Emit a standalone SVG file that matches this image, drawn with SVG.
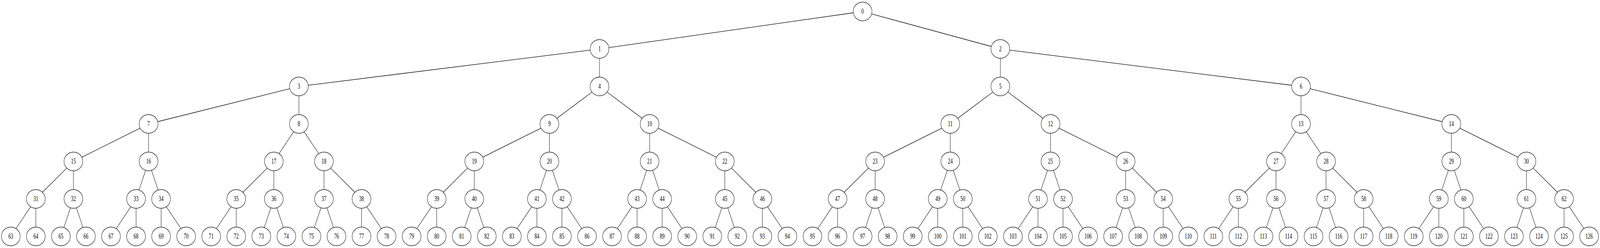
<svg xmlns="http://www.w3.org/2000/svg" width="6131" height="635" viewBox="0 0 6131 635" preserveAspectRatio="none">
<style>
:root{width:100vw;height:100vh}
.e line{stroke:#000;stroke-width:1.33;fill:none}
.n ellipse{fill:#fff;stroke:#000;stroke-width:1.33}
.n text{font-family:"Liberation Serif","Times New Roman",serif;font-size:18.67px;text-anchor:middle;fill:#000}
</style>
<rect x="0" y="0" width="6131" height="635" fill="#fff"/>
<g transform="translate(41.33 29.33)">
<g id="edges" class="e">
<line x1="3228.36" y1="3.39" x2="2291.64" y2="92.61"/>
<line x1="3298.73" y1="6.32" x2="3757.27" y2="89.68"/>
<line x1="2220.28" y1="98.98" x2="1139.72" y2="189.02"/>
<line x1="2256" y1="120" x2="2256" y2="168"/>
<line x1="3792" y1="120" x2="3792" y2="168"/>
<line x1="3827.72" y1="98.98" x2="4908.28" y2="189.02"/>
<line x1="1069.07" y1="197.82" x2="562.93" y2="282.18"/>
<line x1="1104" y1="216" x2="1104" y2="264"/>
<line x1="2227.2" y1="206.4" x2="2092.8" y2="273.6"/>
<line x1="2284.8" y1="206.4" x2="2419.2" y2="273.6"/>
<line x1="3763.2" y1="206.4" x2="3628.8" y2="273.6"/>
<line x1="3820.8" y1="206.4" x2="3955.2" y2="273.6"/>
<line x1="4944" y1="216" x2="4944" y2="264"/>
<line x1="4978.93" y1="197.82" x2="5485.07" y2="282.18"/>
<line x1="495.8" y1="298.73" x2="272.2" y2="373.27"/>
<line x1="528" y1="312" x2="528" y2="360"/>
<line x1="1084.03" y1="307.97" x2="1027.97" y2="364.03"/>
<line x1="1123.97" y1="307.97" x2="1180.03" y2="364.03"/>
<line x1="2031.8" y1="298.73" x2="1808.2" y2="373.27"/>
<line x1="2064" y1="312" x2="2064" y2="360"/>
<line x1="2448" y1="312" x2="2448" y2="360"/>
<line x1="2480.2" y1="298.73" x2="2703.8" y2="373.27"/>
<line x1="3567.8" y1="298.73" x2="3344.2" y2="373.27"/>
<line x1="3600" y1="312" x2="3600" y2="360"/>
<line x1="3984" y1="312" x2="3984" y2="360"/>
<line x1="4016.2" y1="298.73" x2="4239.8" y2="373.27"/>
<line x1="4924.03" y1="307.97" x2="4867.97" y2="364.03"/>
<line x1="4963.97" y1="307.97" x2="5020.03" y2="364.03"/>
<line x1="5520" y1="312" x2="5520" y2="360"/>
<line x1="5552.2" y1="298.73" x2="5775.8" y2="373.27"/>
<line x1="214.54" y1="400.97" x2="121.46" y2="463.03"/>
<line x1="240" y1="408" x2="240" y2="456"/>
<line x1="516.62" y1="406.77" x2="491.38" y2="457.23"/>
<line x1="539.38" y1="406.77" x2="564.62" y2="457.23"/>
<line x1="982.54" y1="400.97" x2="889.46" y2="463.03"/>
<line x1="1008" y1="408" x2="1008" y2="456"/>
<line x1="1200" y1="408" x2="1200" y2="456"/>
<line x1="1225.46" y1="400.97" x2="1318.54" y2="463.03"/>
<line x1="1750.54" y1="400.97" x2="1657.46" y2="463.03"/>
<line x1="1776" y1="408" x2="1776" y2="456"/>
<line x1="2052.62" y1="406.77" x2="2027.38" y2="457.23"/>
<line x1="2075.38" y1="406.77" x2="2100.62" y2="457.23"/>
<line x1="2436.62" y1="406.77" x2="2411.38" y2="457.23"/>
<line x1="2459.38" y1="406.77" x2="2484.62" y2="457.23"/>
<line x1="2736" y1="408" x2="2736" y2="456"/>
<line x1="2761.46" y1="400.97" x2="2854.54" y2="463.03"/>
<line x1="3286.54" y1="400.97" x2="3193.46" y2="463.03"/>
<line x1="3312" y1="408" x2="3312" y2="456"/>
<line x1="3588.62" y1="406.77" x2="3563.38" y2="457.23"/>
<line x1="3611.38" y1="406.77" x2="3636.62" y2="457.23"/>
<line x1="3972.62" y1="406.77" x2="3947.38" y2="457.23"/>
<line x1="3995.38" y1="406.77" x2="4020.62" y2="457.23"/>
<line x1="4272" y1="408" x2="4272" y2="456"/>
<line x1="4297.46" y1="400.97" x2="4390.54" y2="463.03"/>
<line x1="4822.54" y1="400.97" x2="4729.46" y2="463.03"/>
<line x1="4848" y1="408" x2="4848" y2="456"/>
<line x1="5040" y1="408" x2="5040" y2="456"/>
<line x1="5065.46" y1="400.97" x2="5158.54" y2="463.03"/>
<line x1="5508.62" y1="406.77" x2="5483.38" y2="457.23"/>
<line x1="5531.38" y1="406.77" x2="5556.62" y2="457.23"/>
<line x1="5808" y1="408" x2="5808" y2="456"/>
<line x1="5833.46" y1="400.97" x2="5926.54" y2="463.03"/>
<line x1="76.03" y1="499.97" x2="19.97" y2="556.03"/>
<line x1="96" y1="504" x2="96" y2="552"/>
<line x1="228.62" y1="502.77" x2="203.38" y2="553.23"/>
<line x1="251.38" y1="502.77" x2="276.62" y2="553.23"/>
<line x1="460.03" y1="499.97" x2="403.97" y2="556.03"/>
<line x1="480" y1="504" x2="480" y2="552"/>
<line x1="576" y1="504" x2="576" y2="552"/>
<line x1="595.97" y1="499.97" x2="652.03" y2="556.03"/>
<line x1="844.03" y1="499.97" x2="787.97" y2="556.03"/>
<line x1="864" y1="504" x2="864" y2="552"/>
<line x1="996.62" y1="502.77" x2="971.38" y2="553.23"/>
<line x1="1019.38" y1="502.77" x2="1044.62" y2="553.23"/>
<line x1="1188.62" y1="502.77" x2="1163.38" y2="553.23"/>
<line x1="1211.38" y1="502.77" x2="1236.62" y2="553.23"/>
<line x1="1344" y1="504" x2="1344" y2="552"/>
<line x1="1363.97" y1="499.97" x2="1420.03" y2="556.03"/>
<line x1="1612.03" y1="499.97" x2="1555.97" y2="556.03"/>
<line x1="1632" y1="504" x2="1632" y2="552"/>
<line x1="1764.62" y1="502.77" x2="1739.38" y2="553.23"/>
<line x1="1787.38" y1="502.77" x2="1812.62" y2="553.23"/>
<line x1="1996.03" y1="499.97" x2="1939.97" y2="556.03"/>
<line x1="2016" y1="504" x2="2016" y2="552"/>
<line x1="2112" y1="504" x2="2112" y2="552"/>
<line x1="2131.97" y1="499.97" x2="2188.03" y2="556.03"/>
<line x1="2380.03" y1="499.97" x2="2323.97" y2="556.03"/>
<line x1="2400" y1="504" x2="2400" y2="552"/>
<line x1="2496" y1="504" x2="2496" y2="552"/>
<line x1="2515.97" y1="499.97" x2="2572.03" y2="556.03"/>
<line x1="2724.62" y1="502.77" x2="2699.38" y2="553.23"/>
<line x1="2747.38" y1="502.77" x2="2772.62" y2="553.23"/>
<line x1="2880" y1="504" x2="2880" y2="552"/>
<line x1="2899.97" y1="499.97" x2="2956.03" y2="556.03"/>
<line x1="3148.03" y1="499.97" x2="3091.97" y2="556.03"/>
<line x1="3168" y1="504" x2="3168" y2="552"/>
<line x1="3300.62" y1="502.77" x2="3275.38" y2="553.23"/>
<line x1="3323.38" y1="502.77" x2="3348.62" y2="553.23"/>
<line x1="3532.03" y1="499.97" x2="3475.97" y2="556.03"/>
<line x1="3552" y1="504" x2="3552" y2="552"/>
<line x1="3648" y1="504" x2="3648" y2="552"/>
<line x1="3667.97" y1="499.97" x2="3724.03" y2="556.03"/>
<line x1="3916.03" y1="499.97" x2="3859.97" y2="556.03"/>
<line x1="3936" y1="504" x2="3936" y2="552"/>
<line x1="4032" y1="504" x2="4032" y2="552"/>
<line x1="4051.97" y1="499.97" x2="4108.03" y2="556.03"/>
<line x1="4260.62" y1="502.77" x2="4235.38" y2="553.23"/>
<line x1="4283.38" y1="502.77" x2="4308.62" y2="553.23"/>
<line x1="4416" y1="504" x2="4416" y2="552"/>
<line x1="4435.97" y1="499.97" x2="4492.03" y2="556.03"/>
<line x1="4684.03" y1="499.97" x2="4627.97" y2="556.03"/>
<line x1="4704" y1="504" x2="4704" y2="552"/>
<line x1="4836.62" y1="502.77" x2="4811.38" y2="553.23"/>
<line x1="4859.38" y1="502.77" x2="4884.62" y2="553.23"/>
<line x1="5028.62" y1="502.77" x2="5003.38" y2="553.23"/>
<line x1="5051.38" y1="502.77" x2="5076.62" y2="553.23"/>
<line x1="5184" y1="504" x2="5184" y2="552"/>
<line x1="5203.97" y1="499.97" x2="5260.03" y2="556.03"/>
<line x1="5452.03" y1="499.97" x2="5395.97" y2="556.03"/>
<line x1="5472" y1="504" x2="5472" y2="552"/>
<line x1="5568" y1="504" x2="5568" y2="552"/>
<line x1="5587.97" y1="499.97" x2="5644.03" y2="556.03"/>
<line x1="5796.62" y1="502.77" x2="5771.38" y2="553.23"/>
<line x1="5819.38" y1="502.77" x2="5844.62" y2="553.23"/>
<line x1="5952" y1="504" x2="5952" y2="552"/>
<line x1="5971.97" y1="499.97" x2="6028.03" y2="556.03"/>
</g>
<g id="nodes" class="n">
<g id="node0"><ellipse cx="3264" cy="0" rx="36" ry="24"/><text x="3264" y="6">0</text></g>
<g id="node1"><ellipse cx="2256" cy="96" rx="36" ry="24"/><text x="2256" y="102">1</text></g>
<g id="node2"><ellipse cx="3792" cy="96" rx="36" ry="24"/><text x="3792" y="102">2</text></g>
<g id="node3"><ellipse cx="1104" cy="192" rx="36" ry="24"/><text x="1104" y="198">3</text></g>
<g id="node4"><ellipse cx="2256" cy="192" rx="36" ry="24"/><text x="2256" y="198">4</text></g>
<g id="node5"><ellipse cx="3792" cy="192" rx="36" ry="24"/><text x="3792" y="198">5</text></g>
<g id="node6"><ellipse cx="4944" cy="192" rx="36" ry="24"/><text x="4944" y="198">6</text></g>
<g id="node7"><ellipse cx="528" cy="288" rx="36" ry="24"/><text x="528" y="294">7</text></g>
<g id="node8"><ellipse cx="1104" cy="288" rx="36" ry="24"/><text x="1104" y="294">8</text></g>
<g id="node9"><ellipse cx="2064" cy="288" rx="36" ry="24"/><text x="2064" y="294">9</text></g>
<g id="node10"><ellipse cx="2448" cy="288" rx="36" ry="24"/><text x="2448" y="294">10</text></g>
<g id="node11"><ellipse cx="3600" cy="288" rx="36" ry="24"/><text x="3600" y="294">11</text></g>
<g id="node12"><ellipse cx="3984" cy="288" rx="36" ry="24"/><text x="3984" y="294">12</text></g>
<g id="node13"><ellipse cx="4944" cy="288" rx="36" ry="24"/><text x="4944" y="294">13</text></g>
<g id="node14"><ellipse cx="5520" cy="288" rx="36" ry="24"/><text x="5520" y="294">14</text></g>
<g id="node15"><ellipse cx="240" cy="384" rx="36" ry="24"/><text x="240" y="390">15</text></g>
<g id="node16"><ellipse cx="528" cy="384" rx="36" ry="24"/><text x="528" y="390">16</text></g>
<g id="node17"><ellipse cx="1008" cy="384" rx="36" ry="24"/><text x="1008" y="390">17</text></g>
<g id="node18"><ellipse cx="1200" cy="384" rx="36" ry="24"/><text x="1200" y="390">18</text></g>
<g id="node19"><ellipse cx="1776" cy="384" rx="36" ry="24"/><text x="1776" y="390">19</text></g>
<g id="node20"><ellipse cx="2064" cy="384" rx="36" ry="24"/><text x="2064" y="390">20</text></g>
<g id="node21"><ellipse cx="2448" cy="384" rx="36" ry="24"/><text x="2448" y="390">21</text></g>
<g id="node22"><ellipse cx="2736" cy="384" rx="36" ry="24"/><text x="2736" y="390">22</text></g>
<g id="node23"><ellipse cx="3312" cy="384" rx="36" ry="24"/><text x="3312" y="390">23</text></g>
<g id="node24"><ellipse cx="3600" cy="384" rx="36" ry="24"/><text x="3600" y="390">24</text></g>
<g id="node25"><ellipse cx="3984" cy="384" rx="36" ry="24"/><text x="3984" y="390">25</text></g>
<g id="node26"><ellipse cx="4272" cy="384" rx="36" ry="24"/><text x="4272" y="390">26</text></g>
<g id="node27"><ellipse cx="4848" cy="384" rx="36" ry="24"/><text x="4848" y="390">27</text></g>
<g id="node28"><ellipse cx="5040" cy="384" rx="36" ry="24"/><text x="5040" y="390">28</text></g>
<g id="node29"><ellipse cx="5520" cy="384" rx="36" ry="24"/><text x="5520" y="390">29</text></g>
<g id="node30"><ellipse cx="5808" cy="384" rx="36" ry="24"/><text x="5808" y="390">30</text></g>
<g id="node31"><ellipse cx="96" cy="480" rx="36" ry="24"/><text x="96" y="486">31</text></g>
<g id="node32"><ellipse cx="240" cy="480" rx="36" ry="24"/><text x="240" y="486">32</text></g>
<g id="node33"><ellipse cx="480" cy="480" rx="36" ry="24"/><text x="480" y="486">33</text></g>
<g id="node34"><ellipse cx="576" cy="480" rx="36" ry="24"/><text x="576" y="486">34</text></g>
<g id="node35"><ellipse cx="864" cy="480" rx="36" ry="24"/><text x="864" y="486">35</text></g>
<g id="node36"><ellipse cx="1008" cy="480" rx="36" ry="24"/><text x="1008" y="486">36</text></g>
<g id="node37"><ellipse cx="1200" cy="480" rx="36" ry="24"/><text x="1200" y="486">37</text></g>
<g id="node38"><ellipse cx="1344" cy="480" rx="36" ry="24"/><text x="1344" y="486">38</text></g>
<g id="node39"><ellipse cx="1632" cy="480" rx="36" ry="24"/><text x="1632" y="486">39</text></g>
<g id="node40"><ellipse cx="1776" cy="480" rx="36" ry="24"/><text x="1776" y="486">40</text></g>
<g id="node41"><ellipse cx="2016" cy="480" rx="36" ry="24"/><text x="2016" y="486">41</text></g>
<g id="node42"><ellipse cx="2112" cy="480" rx="36" ry="24"/><text x="2112" y="486">42</text></g>
<g id="node43"><ellipse cx="2400" cy="480" rx="36" ry="24"/><text x="2400" y="486">43</text></g>
<g id="node44"><ellipse cx="2496" cy="480" rx="36" ry="24"/><text x="2496" y="486">44</text></g>
<g id="node45"><ellipse cx="2736" cy="480" rx="36" ry="24"/><text x="2736" y="486">45</text></g>
<g id="node46"><ellipse cx="2880" cy="480" rx="36" ry="24"/><text x="2880" y="486">46</text></g>
<g id="node47"><ellipse cx="3168" cy="480" rx="36" ry="24"/><text x="3168" y="486">47</text></g>
<g id="node48"><ellipse cx="3312" cy="480" rx="36" ry="24"/><text x="3312" y="486">48</text></g>
<g id="node49"><ellipse cx="3552" cy="480" rx="36" ry="24"/><text x="3552" y="486">49</text></g>
<g id="node50"><ellipse cx="3648" cy="480" rx="36" ry="24"/><text x="3648" y="486">50</text></g>
<g id="node51"><ellipse cx="3936" cy="480" rx="36" ry="24"/><text x="3936" y="486">51</text></g>
<g id="node52"><ellipse cx="4032" cy="480" rx="36" ry="24"/><text x="4032" y="486">52</text></g>
<g id="node53"><ellipse cx="4272" cy="480" rx="36" ry="24"/><text x="4272" y="486">53</text></g>
<g id="node54"><ellipse cx="4416" cy="480" rx="36" ry="24"/><text x="4416" y="486">54</text></g>
<g id="node55"><ellipse cx="4704" cy="480" rx="36" ry="24"/><text x="4704" y="486">55</text></g>
<g id="node56"><ellipse cx="4848" cy="480" rx="36" ry="24"/><text x="4848" y="486">56</text></g>
<g id="node57"><ellipse cx="5040" cy="480" rx="36" ry="24"/><text x="5040" y="486">57</text></g>
<g id="node58"><ellipse cx="5184" cy="480" rx="36" ry="24"/><text x="5184" y="486">58</text></g>
<g id="node59"><ellipse cx="5472" cy="480" rx="36" ry="24"/><text x="5472" y="486">59</text></g>
<g id="node60"><ellipse cx="5568" cy="480" rx="36" ry="24"/><text x="5568" y="486">60</text></g>
<g id="node61"><ellipse cx="5808" cy="480" rx="36" ry="24"/><text x="5808" y="486">61</text></g>
<g id="node62"><ellipse cx="5952" cy="480" rx="36" ry="24"/><text x="5952" y="486">62</text></g>
<g id="node63"><ellipse cx="0" cy="576" rx="36" ry="24"/><text x="0" y="582">63</text></g>
<g id="node64"><ellipse cx="96" cy="576" rx="36" ry="24"/><text x="96" y="582">64</text></g>
<g id="node65"><ellipse cx="192" cy="576" rx="36" ry="24"/><text x="192" y="582">65</text></g>
<g id="node66"><ellipse cx="288" cy="576" rx="36" ry="24"/><text x="288" y="582">66</text></g>
<g id="node67"><ellipse cx="384" cy="576" rx="36" ry="24"/><text x="384" y="582">67</text></g>
<g id="node68"><ellipse cx="480" cy="576" rx="36" ry="24"/><text x="480" y="582">68</text></g>
<g id="node69"><ellipse cx="576" cy="576" rx="36" ry="24"/><text x="576" y="582">69</text></g>
<g id="node70"><ellipse cx="672" cy="576" rx="36" ry="24"/><text x="672" y="582">70</text></g>
<g id="node71"><ellipse cx="768" cy="576" rx="36" ry="24"/><text x="768" y="582">71</text></g>
<g id="node72"><ellipse cx="864" cy="576" rx="36" ry="24"/><text x="864" y="582">72</text></g>
<g id="node73"><ellipse cx="960" cy="576" rx="36" ry="24"/><text x="960" y="582">73</text></g>
<g id="node74"><ellipse cx="1056" cy="576" rx="36" ry="24"/><text x="1056" y="582">74</text></g>
<g id="node75"><ellipse cx="1152" cy="576" rx="36" ry="24"/><text x="1152" y="582">75</text></g>
<g id="node76"><ellipse cx="1248" cy="576" rx="36" ry="24"/><text x="1248" y="582">76</text></g>
<g id="node77"><ellipse cx="1344" cy="576" rx="36" ry="24"/><text x="1344" y="582">77</text></g>
<g id="node78"><ellipse cx="1440" cy="576" rx="36" ry="24"/><text x="1440" y="582">78</text></g>
<g id="node79"><ellipse cx="1536" cy="576" rx="36" ry="24"/><text x="1536" y="582">79</text></g>
<g id="node80"><ellipse cx="1632" cy="576" rx="36" ry="24"/><text x="1632" y="582">80</text></g>
<g id="node81"><ellipse cx="1728" cy="576" rx="36" ry="24"/><text x="1728" y="582">81</text></g>
<g id="node82"><ellipse cx="1824" cy="576" rx="36" ry="24"/><text x="1824" y="582">82</text></g>
<g id="node83"><ellipse cx="1920" cy="576" rx="36" ry="24"/><text x="1920" y="582">83</text></g>
<g id="node84"><ellipse cx="2016" cy="576" rx="36" ry="24"/><text x="2016" y="582">84</text></g>
<g id="node85"><ellipse cx="2112" cy="576" rx="36" ry="24"/><text x="2112" y="582">85</text></g>
<g id="node86"><ellipse cx="2208" cy="576" rx="36" ry="24"/><text x="2208" y="582">86</text></g>
<g id="node87"><ellipse cx="2304" cy="576" rx="36" ry="24"/><text x="2304" y="582">87</text></g>
<g id="node88"><ellipse cx="2400" cy="576" rx="36" ry="24"/><text x="2400" y="582">88</text></g>
<g id="node89"><ellipse cx="2496" cy="576" rx="36" ry="24"/><text x="2496" y="582">89</text></g>
<g id="node90"><ellipse cx="2592" cy="576" rx="36" ry="24"/><text x="2592" y="582">90</text></g>
<g id="node91"><ellipse cx="2688" cy="576" rx="36" ry="24"/><text x="2688" y="582">91</text></g>
<g id="node92"><ellipse cx="2784" cy="576" rx="36" ry="24"/><text x="2784" y="582">92</text></g>
<g id="node93"><ellipse cx="2880" cy="576" rx="36" ry="24"/><text x="2880" y="582">93</text></g>
<g id="node94"><ellipse cx="2976" cy="576" rx="36" ry="24"/><text x="2976" y="582">94</text></g>
<g id="node95"><ellipse cx="3072" cy="576" rx="36" ry="24"/><text x="3072" y="582">95</text></g>
<g id="node96"><ellipse cx="3168" cy="576" rx="36" ry="24"/><text x="3168" y="582">96</text></g>
<g id="node97"><ellipse cx="3264" cy="576" rx="36" ry="24"/><text x="3264" y="582">97</text></g>
<g id="node98"><ellipse cx="3360" cy="576" rx="36" ry="24"/><text x="3360" y="582">98</text></g>
<g id="node99"><ellipse cx="3456" cy="576" rx="36" ry="24"/><text x="3456" y="582">99</text></g>
<g id="node100"><ellipse cx="3552" cy="576" rx="36" ry="24"/><text x="3552" y="582">100</text></g>
<g id="node101"><ellipse cx="3648" cy="576" rx="36" ry="24"/><text x="3648" y="582">101</text></g>
<g id="node102"><ellipse cx="3744" cy="576" rx="36" ry="24"/><text x="3744" y="582">102</text></g>
<g id="node103"><ellipse cx="3840" cy="576" rx="36" ry="24"/><text x="3840" y="582">103</text></g>
<g id="node104"><ellipse cx="3936" cy="576" rx="36" ry="24"/><text x="3936" y="582">104</text></g>
<g id="node105"><ellipse cx="4032" cy="576" rx="36" ry="24"/><text x="4032" y="582">105</text></g>
<g id="node106"><ellipse cx="4128" cy="576" rx="36" ry="24"/><text x="4128" y="582">106</text></g>
<g id="node107"><ellipse cx="4224" cy="576" rx="36" ry="24"/><text x="4224" y="582">107</text></g>
<g id="node108"><ellipse cx="4320" cy="576" rx="36" ry="24"/><text x="4320" y="582">108</text></g>
<g id="node109"><ellipse cx="4416" cy="576" rx="36" ry="24"/><text x="4416" y="582">109</text></g>
<g id="node110"><ellipse cx="4512" cy="576" rx="36" ry="24"/><text x="4512" y="582">110</text></g>
<g id="node111"><ellipse cx="4608" cy="576" rx="36" ry="24"/><text x="4608" y="582">111</text></g>
<g id="node112"><ellipse cx="4704" cy="576" rx="36" ry="24"/><text x="4704" y="582">112</text></g>
<g id="node113"><ellipse cx="4800" cy="576" rx="36" ry="24"/><text x="4800" y="582">113</text></g>
<g id="node114"><ellipse cx="4896" cy="576" rx="36" ry="24"/><text x="4896" y="582">114</text></g>
<g id="node115"><ellipse cx="4992" cy="576" rx="36" ry="24"/><text x="4992" y="582">115</text></g>
<g id="node116"><ellipse cx="5088" cy="576" rx="36" ry="24"/><text x="5088" y="582">116</text></g>
<g id="node117"><ellipse cx="5184" cy="576" rx="36" ry="24"/><text x="5184" y="582">117</text></g>
<g id="node118"><ellipse cx="5280" cy="576" rx="36" ry="24"/><text x="5280" y="582">118</text></g>
<g id="node119"><ellipse cx="5376" cy="576" rx="36" ry="24"/><text x="5376" y="582">119</text></g>
<g id="node120"><ellipse cx="5472" cy="576" rx="36" ry="24"/><text x="5472" y="582">120</text></g>
<g id="node121"><ellipse cx="5568" cy="576" rx="36" ry="24"/><text x="5568" y="582">121</text></g>
<g id="node122"><ellipse cx="5664" cy="576" rx="36" ry="24"/><text x="5664" y="582">122</text></g>
<g id="node123"><ellipse cx="5760" cy="576" rx="36" ry="24"/><text x="5760" y="582">123</text></g>
<g id="node124"><ellipse cx="5856" cy="576" rx="36" ry="24"/><text x="5856" y="582">124</text></g>
<g id="node125"><ellipse cx="5952" cy="576" rx="36" ry="24"/><text x="5952" y="582">125</text></g>
<g id="node126"><ellipse cx="6048" cy="576" rx="36" ry="24"/><text x="6048" y="582">126</text></g>
</g>
</g>
</svg>
